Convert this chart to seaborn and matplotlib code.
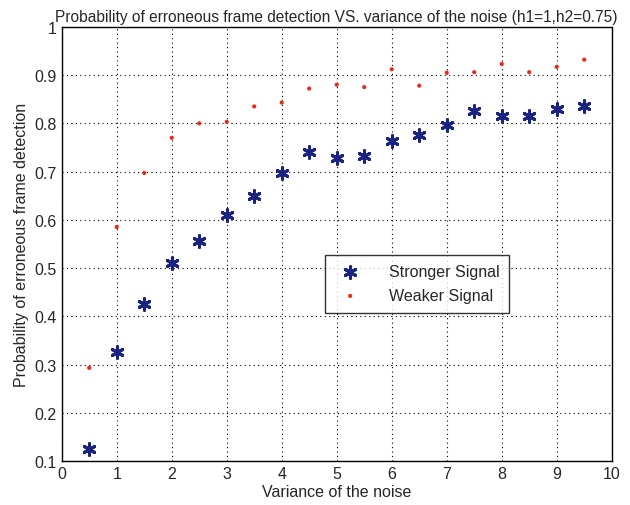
import matplotlib
matplotlib.use("Agg")
import matplotlib.pyplot as plt
import seaborn as sns
import pandas as pd

variance = [0.5, 1, 1.5, 2, 2.5, 3, 3.5, 4, 4.5, 5, 5.5, 6, 6.5, 7, 7.5, 8, 8.5, 9, 9.5]
stronger = [0.125, 0.325, 0.425, 0.51, 0.555, 0.61, 0.65, 0.697, 0.74, 0.728, 0.732,
            0.763, 0.775, 0.797, 0.826, 0.815, 0.815, 0.83, 0.836]
weaker = [0.293, 0.585, 0.697, 0.77, 0.80, 0.803, 0.835, 0.843, 0.872, 0.88, 0.875,
          0.912, 0.878, 0.905, 0.906, 0.923, 0.906, 0.917, 0.932]
xticks = list(range(0, 11))
yticks = [0.1, 0.2, 0.3, 0.4, 0.5, 0.6, 0.7, 0.8, 0.9, 1]
ytick_labels = ["0.1", "0.2", "0.3", "0.4", "0.5", "0.6", "0.7", "0.8", "0.9", "1"]

sns.set_style("white")
plt.rcParams['font.family'] = ['Liberation Sans', 'DejaVu Sans']

df_s = pd.DataFrame({"x": variance, "y": stronger})
df_w = pd.DataFrame({"x": variance, "y": weaker})

fig = plt.figure(figsize=(6.3, 5.06), dpi=100)
ax = fig.add_axes([0.098, 0.087, 0.873, 0.858])

sns.scatterplot(data=df_s, x="x", y="y", ax=ax, marker=(6, 2, 0), s=70,
                color="#1a237e", edgecolor="#1a237e", linewidth=2.2, label="Stronger Signal", zorder=3)
sns.scatterplot(data=df_w, x="x", y="y", ax=ax, marker="o", s=9,
                color="#e8291c", edgecolor="none", label="Weaker Signal", zorder=3)

ax.set_xlim(0, 10)
ax.set_ylim(0.1, 1)
ax.set_xticks(xticks)
ax.set_yticks(yticks)
ax.set_yticklabels(ytick_labels)
ax.tick_params(axis="both", labelsize=11.5, direction="in", length=4, color="black")
ax.grid(True, linestyle=(0, (1, 3)), color="black", linewidth=0.8)
for sp in ax.spines.values():
    sp.set_color("black")
    sp.set_linewidth(1.0)
ax.set_xlabel("Variance of the noise", fontsize=11.5, labelpad=2)
ax.set_ylabel("Probability of erroneous frame detection", fontsize=11.5)
ax.set_title("Probability of erroneous frame detection VS. variance of the noise (h1=1,h2=0.75)",
             fontsize=11.2, pad=4)

leg = ax.legend(loc="upper left", bbox_to_anchor=(0.478, 0.475), fontsize=11.5,
                frameon=True, fancybox=False, edgecolor="black", borderpad=0.6,
                handletextpad=1.4, labelspacing=0.55, borderaxespad=0)
leg.get_frame().set_linewidth(1.0)

fig.savefig("out.png", dpi=100)
